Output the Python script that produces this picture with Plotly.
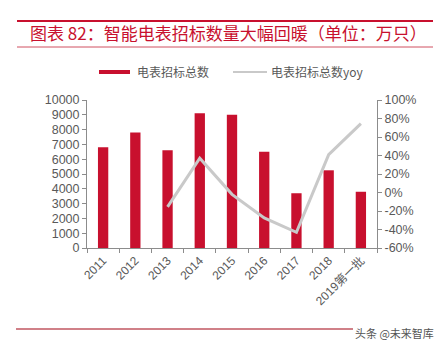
import plotly.graph_objects as go

categories = ["2011", "2012", "2013", "2014", "2015", "2016", "2017", "2018", "2019第一批"]
bids = [6800, 7800, 6600, 9100, 9000, 6500, 3700, 5250, 3800]
yoy = [None, None, -15.5, 37, -2, -27.5, -43, 41, 74.5]

left_ticks = list(range(0, 10001, 1000))
left_labels = [str(v) for v in left_ticks]
right_ticks = list(range(-60, 101, 20))
right_labels = [f"{v}%" for v in right_ticks]

RED = "#c8102e"
GREY = "#c9c9c9"
TXT = "#595959"
FONT = "Liberation Sans, Arial, Noto Sans CJK SC"

fig = go.Figure()
fig.add_trace(go.Bar(x=categories, y=bids, name="电表招标总数", marker_color=RED,
                     marker_line_width=0, yaxis="y"))
fig.add_trace(go.Scatter(x=categories, y=yoy, name="电表招标总数yoy", mode="lines",
                         line=dict(color=GREY, width=3), yaxis="y2", connectgaps=False))

fig.update_layout(
    width=445, height=349,
    margin=dict(l=87, r=68, t=100, b=101),
    paper_bgcolor="white", plot_bgcolor="white",
    showlegend=False,
    bargap=0.68,
    font=dict(family=FONT, size=12, color=TXT),
    xaxis=dict(
        type="category", showline=True, linecolor="#8c8c8c", linewidth=1,
        ticks="outside", tickson="boundaries", ticklen=4, tickcolor="#8c8c8c",
        tickangle=-45, tickfont=dict(size=12, color=TXT), showgrid=False,
    ),
    yaxis=dict(
        range=[0, 10000], tickvals=left_ticks, ticktext=left_labels, showline=True,
        linecolor="#8c8c8c", ticks="outside", ticklen=4, tickcolor="#8c8c8c",
        showgrid=False, zeroline=False, tickfont=dict(size=12.5, color=TXT),
    ),
    yaxis2=dict(
        range=[-60, 100], tickvals=right_ticks, ticktext=right_labels, overlaying="y",
        side="right", showline=True, linecolor="#8c8c8c", ticks="outside",
        ticklen=4, tickcolor="#8c8c8c", showgrid=False, zeroline=False,
        tickfont=dict(size=12.5, color=TXT),
    ),
)

shapes = [
    dict(type="line", xref="paper", yref="paper", x0=-70/290, x1=346/290,
         y0=1 + 79/148, y1=1 + 79/148, line=dict(color="#c8102e", width=2)),
    dict(type="line", xref="paper", yref="paper", x0=-70/290, x1=346/290,
         y0=1 + 53/148, y1=1 + 53/148, line=dict(color="#d05060", width=1)),
    dict(type="line", xref="paper", yref="paper", x0=-71/290, x1=266/290,
         y0=-81/148, y1=-81/148, line=dict(color="#d08088", width=2)),
    # legend swatches
    dict(type="rect", xref="paper", yref="paper", x0=12/290, x1=43/290,
         y0=1 + 26/148, y1=1 + 30/148, fillcolor=RED, line=dict(width=0)),
    dict(type="line", xref="paper", yref="paper", x0=146/290, x1=180/290,
         y0=1 + 28/148, y1=1 + 28/148, line=dict(color=GREY, width=2)),
]
annotations = [
    dict(text="图表 82：智能电表招标数量大幅回暖（单位：万只）", xref="paper", yref="paper",
         x=-59/290, y=1 + 68/148, xanchor="left", yanchor="middle", showarrow=False,
         font=dict(family="Noto Sans CJK SC", size=17, color="#c8102e")),
    dict(text="电表招标总数", xref="paper", yref="paper", x=48/290, y=1 + 28/148,
         xanchor="left", yanchor="middle", showarrow=False,
         font=dict(family="Noto Sans CJK SC", size=12, color=TXT)),
    dict(text="电表招标总数yoy", xref="paper", yref="paper", x=182/290, y=1 + 28/148,
         xanchor="left", yanchor="middle", showarrow=False,
         font=dict(family="Noto Sans CJK SC", size=12, color=TXT)),
    dict(text="头条 @未来智库", xref="paper", yref="paper", x=266/290, y=-85/148,
         xanchor="left", yanchor="middle", showarrow=False,
         font=dict(family="Noto Sans CJK SC", size=11, color="#555555")),
]
fig.update_layout(shapes=shapes, annotations=annotations)

fig.write_html("out.html")
